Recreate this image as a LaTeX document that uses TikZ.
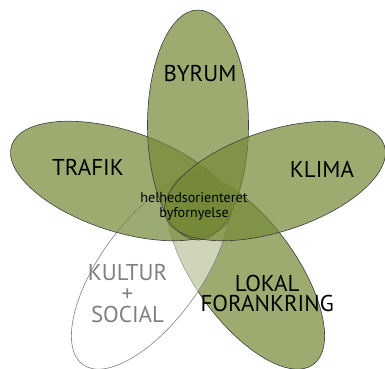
\documentclass[tikz,border=0pt]{standalone}
\usepackage{fontspec}
\setmainfont{PT Sans}
\usetikzlibrary{shapes.geometric}
\definecolor{petal}{RGB}{115,136,53}
\definecolor{petalline}{RGB}{60,60,60}
\definecolor{softgray}{RGB}{128,128,128}
\begin{document}
\begin{tikzpicture}[x=1bp,y=-1bp,
  petalshape/.style={ellipse, minimum width=230bp, minimum height=101bp, inner sep=0pt,
    draw=petalline, line width=0.6bp, fill=petal, fill opacity=0.7},
  softpetal/.style={ellipse, minimum width=230bp, minimum height=101bp, inner sep=0pt,
    draw=softgray, line width=0.6bp, fill=white, fill opacity=0.5},
  biglabel/.style={font=\fontsize{23}{27}\selectfont, anchor=base, inner sep=0pt, text=black},
  stacklabel/.style={font=\fontsize{23}{20}\selectfont, align=center, anchor=center, inner sep=0pt, text=black},
  graylabel/.style={font=\fontsize{23}{21.5}\selectfont, align=center, anchor=center, inner sep=0pt, text=softgray},
  smalllabel/.style={font=\fontsize{14.2}{15}\selectfont, align=center, anchor=center, inner sep=0pt, text=black}]
\useasboundingbox (0,0) rectangle (385,369);
% petals
\node[petalshape, rotate=-54] (plokal) at (245.6,271.5) {};
\node[softpetal, rotate=54] (pkultur) at (150.4,271.5) {};
\node[petalshape, rotate=-18] (ptrafik) at (121.0,181.0) {};
\node[petalshape, rotate=90] (pbyrum) at (198,125) {};
\node[petalshape, rotate=18] (pklima) at (275.0,181.0) {};
% labels
\node[biglabel] (lbyrum) at (200,81) {BYRUM};
\node[biglabel] (ltrafik) at (88,175) {TRAFIK};
\node[biglabel] (lklima) at (322,177) {KLIMA};
\node[stacklabel] (llokal) at (267.2,293.5) {LOKAL\\FORANKRING};
\node[graylabel] (lkultur) at (127.5,293.5) {KULTUR\\+\\SOCIAL};
\node[smalllabel] (lhel) at (194,206.9) {helhedsorienteret\\byfornyelse};
\end{tikzpicture}
\end{document}
